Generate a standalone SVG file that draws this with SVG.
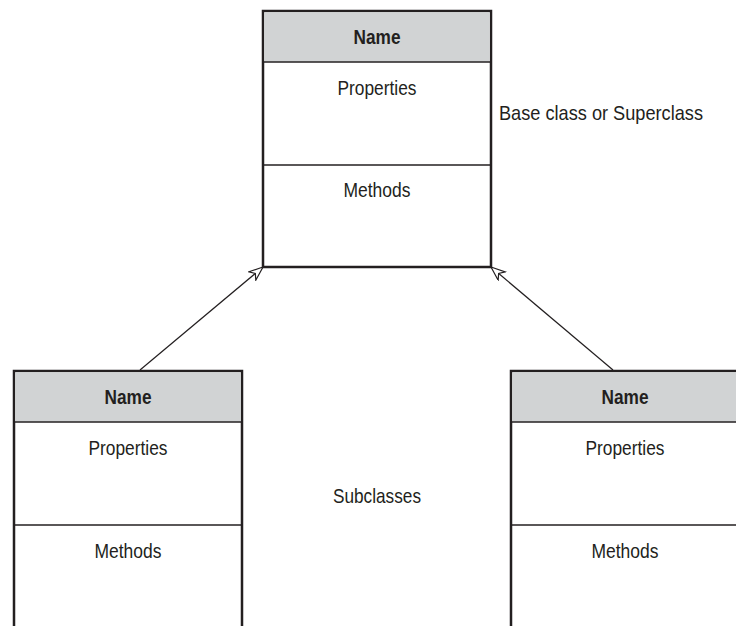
<svg xmlns="http://www.w3.org/2000/svg" width="736" height="626" viewBox="0 0 736 626">
<defs>
<style>
.box{fill:#fff;stroke:#231f20;stroke-width:2.5}
.hdr{fill:#d1d3d4;stroke:none}
.ln{stroke:#231f20;stroke-width:1.5;fill:none}
.t{font-family:"Liberation Sans Narrow","Liberation Sans",Arial,sans-serif;font-size:21px;fill:#231f20;text-anchor:middle}
.b{font-weight:bold}
.l{text-anchor:start}
.c{stroke:#231f20;stroke-width:1.2;fill:none}
</style>
<marker id="tri" markerWidth="18" markerHeight="14" refX="15" refY="6" orient="auto" markerUnits="userSpaceOnUse">
<path d="M15,6 L1,0.5 L5,6 L1,11.5 Z" fill="#fff" stroke="#231f20" stroke-width="1.2" stroke-linejoin="miter"/>
</marker>
</defs>
<rect width="736" height="626" fill="#fff"/>
<g id="base">
<rect class="box" x="263" y="11" width="228" height="256"/>
<rect class="hdr" x="264.25" y="12.25" width="225.5" height="49.5"/>
<line class="ln" x1="263" y1="62" x2="491" y2="62"/>
<line class="ln" x1="263" y1="165" x2="491" y2="165"/>
<text class="t b" x="377" y="44" textLength="47" lengthAdjust="spacingAndGlyphs">Name</text>
<text class="t" x="377" y="95" textLength="79" lengthAdjust="spacingAndGlyphs">Properties</text>
<text class="t" x="377" y="197" textLength="67" lengthAdjust="spacingAndGlyphs">Methods</text>
</g>
<g id="sub1">
<path class="box" d="M14,640 V371 H242 V640"/>
<rect class="hdr" x="15.25" y="372.25" width="225.5" height="49.5"/>
<line class="ln" x1="14" y1="422" x2="242" y2="422"/>
<line class="ln" x1="14" y1="525" x2="242" y2="525"/>
<text class="t b" x="128" y="404" textLength="47" lengthAdjust="spacingAndGlyphs">Name</text>
<text class="t" x="128" y="455" textLength="79" lengthAdjust="spacingAndGlyphs">Properties</text>
<text class="t" x="128" y="558" textLength="67" lengthAdjust="spacingAndGlyphs">Methods</text>
</g>
<g id="sub2">
<path class="box" d="M511,640 V371 H750"/>
<rect class="hdr" x="512.25" y="372.25" width="230" height="49.5"/>
<line class="ln" x1="511" y1="422" x2="740" y2="422"/>
<line class="ln" x1="511" y1="525" x2="740" y2="525"/>
<text class="t b" x="625" y="404" textLength="47" lengthAdjust="spacingAndGlyphs">Name</text>
<text class="t" x="625" y="455" textLength="79" lengthAdjust="spacingAndGlyphs">Properties</text>
<text class="t" x="625" y="558" textLength="67" lengthAdjust="spacingAndGlyphs">Methods</text>
</g>
<g id="labels">
<text class="t l" x="499" y="120" textLength="204" lengthAdjust="spacingAndGlyphs">Base class or Superclass</text>
<text class="t" x="377" y="503" textLength="88" lengthAdjust="spacingAndGlyphs">Subclasses</text>
</g>
<g id="connectors">
<line class="c" x1="140" y1="370" x2="263" y2="267" marker-end="url(#tri)"/>
<line class="c" x1="613" y1="370" x2="491" y2="267" marker-end="url(#tri)"/>
</g>
</svg>
